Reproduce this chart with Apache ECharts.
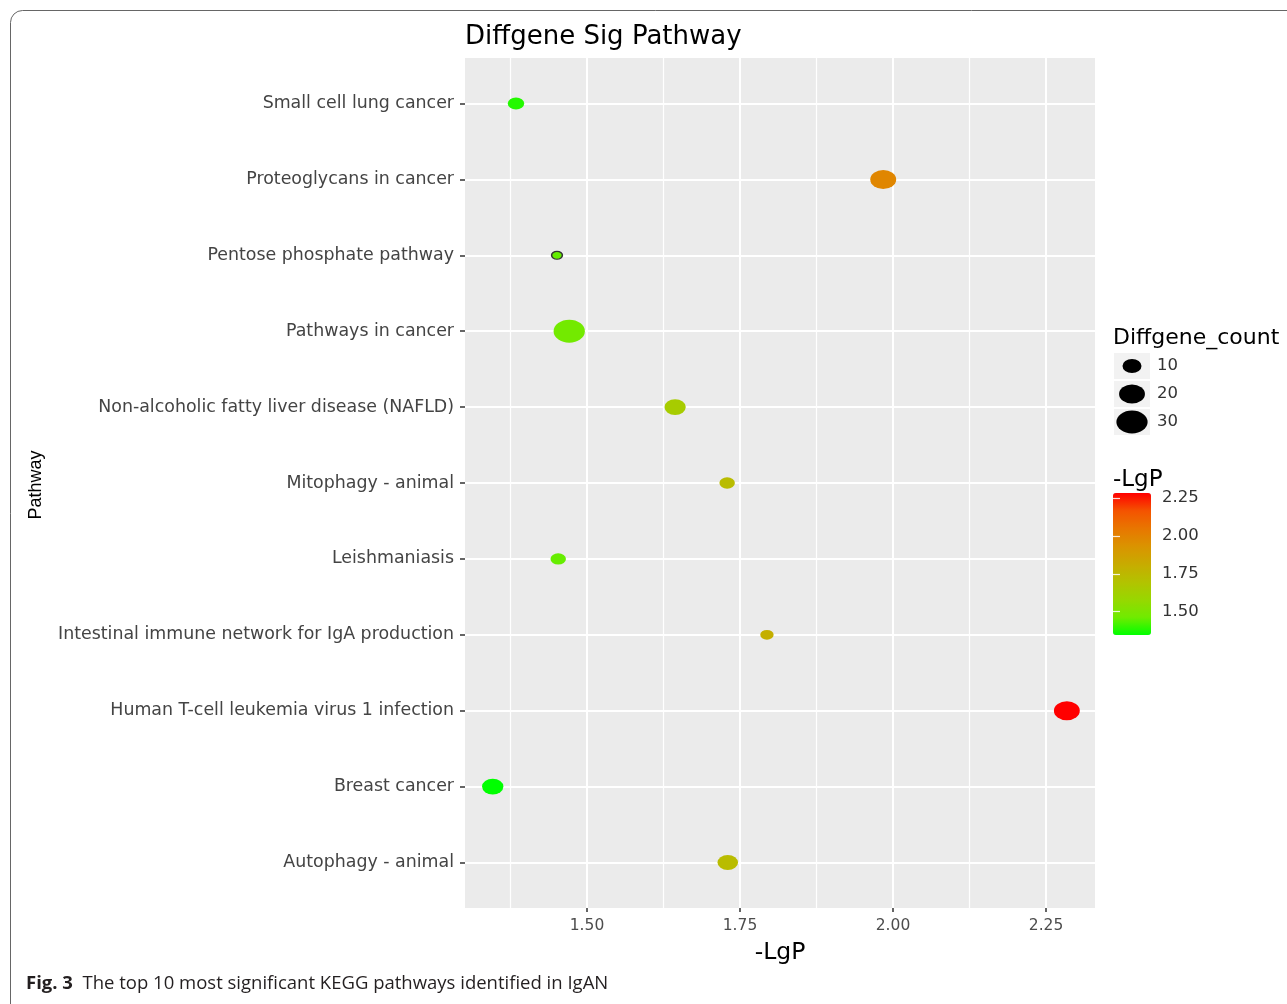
<!DOCTYPE html>
<html><head><meta charset="utf-8">
<script src="https://cdn.jsdelivr.net/npm/echarts@6/dist/echarts.min.js"></script>
<style>html,body{margin:0;padding:0;background:#fff}#c{width:1287px;height:1004px}</style>
</head><body><div id="c"></div>
<script>
const pathways = ['Autophagy - animal','Breast cancer','Human T-cell leukemia virus 1 infection','Intestinal immune network for IgA production','Leishmaniasis','Mitophagy - animal','Non-alcoholic fatty liver disease (NAFLD)','Pathways in cancer','Pentose phosphate pathway','Proteoglycans in cancer','Small cell lung cancer'];
const negLgP = [1.730,1.346,2.284,1.794,1.453,1.729,1.644,1.471,1.451,1.984,1.384];
const diffgeneCount = [12,13,20,4,6,6,13,30,2,20,7];
const xTicks = [1.50,1.75,2.00,2.25];
const xMinorTicks = [1.375,1.625,1.875,2.125];
const sizeLegend = [10,20,30];
const colorTicks = [1.50,1.75,2.00,2.25];
const xRange = [1.3007, 2.330];
const colorRange = [1.346, 2.284];
const gradientColors = ['#00FF00','#70EB00','#98D700','#B3C200','#C8AB00','#DA9300','#E87600','#F45300','#FF0000'];

const ELLIPSE = 'path://M0,50A50,50 0 1,1 100,50A50,50 0 1,1 0,50Z';
function sizeOf(c){ const h = Math.sqrt(30 + 16.6*c); return [h*1.36, h]; }
const AX = 'DejaVu Sans';
const fmt2 = v => Number(v).toFixed(2);

const chart = echarts.init(document.getElementById('c'), null, {renderer:'canvas'});
chart.setOption({
  animation:false,
  backgroundColor:'#fff',
  title:[
    {text:'Diffgene Sig Pathway', left:465, top:24, padding:0, textStyle:{fontFamily:AX, fontSize:26, fontWeight:'normal', color:'#000'}},
    {text:'Diffgene_count', left:1113, top:327, padding:0, textStyle:{fontFamily:AX, fontSize:22, fontWeight:'normal', color:'#000'}},
    {text:'-LgP', left:1113, top:469, padding:0, textStyle:{fontFamily:AX, fontSize:23, fontWeight:'normal', color:'#000'}}
  ],
  grid:[
    {left:465, top:58, width:630, height:850, show:true, backgroundColor:'#EBEBEB', borderWidth:0},
    {left:465, top:103.5, width:630, height:759},
    {left:1113, top:493, width:38, height:142},
    {left:1114, top:352, width:36, height:84, show:true, backgroundColor:'#F2F2F2', borderWidth:0}
  ],
  xAxis:[
    {gridIndex:0, type:'value', min:xRange[0], max:xRange[1], position:'bottom',
      axisLine:{show:false},
      axisTick:{show:true, customValues:xTicks, length:4, lineStyle:{color:'#333', width:1.5}},
      axisLabel:{customValues:xTicks, formatter:fmt2, margin:10, color:'#4D4D4D', fontSize:15.5, fontFamily:AX},
      splitLine:{show:true, lineStyle:{color:'#fff', width:2}},
      name:'-LgP', nameLocation:'middle', nameGap:33, nameTextStyle:{fontFamily:AX, fontSize:23.5, color:'#000'}},
    {gridIndex:0, type:'value', min:xRange[0], max:xRange[1], position:'top',
      axisLine:{show:false}, axisTick:{show:false, customValues:xMinorTicks}, axisLabel:{show:false, customValues:xMinorTicks},
      splitLine:{show:true, lineStyle:{color:'#fff', width:1.2}}},
    {gridIndex:1, type:'value', min:xRange[0], max:xRange[1], show:false},
    {gridIndex:2, type:'value', min:0, max:1, show:false},
    {gridIndex:3, type:'value', min:-1, max:1, show:false}
  ],
  yAxis:[
    {gridIndex:0, type:'value', min:0, max:1, show:false},
    {gridIndex:1, type:'category', data:pathways, boundaryGap:false,
      axisLine:{show:false},
      axisTick:{show:true, length:5, lineStyle:{color:'#333', width:1.5}},
      axisLabel:{interval:0, margin:11, color:'#444', fontSize:17.4, fontFamily:AX, padding:[3,0,0,0]},
      splitLine:{show:true, interval:0, lineStyle:{color:'#fff', width:2}}},
    {gridIndex:2, type:'value', min:colorRange[0], max:colorRange[1], position:'right', z:10,
      axisLine:{show:false},
      axisTick:{show:true, customValues:colorTicks, inside:true, length:7, lineStyle:{color:'rgba(255,255,255,0.85)', width:1.2}},
      axisLabel:{customValues:colorTicks, formatter:fmt2, margin:11, color:'#333', fontSize:16.5, fontFamily:AX},
      splitLine:{show:false}},
    {gridIndex:2, type:'value', min:colorRange[0], max:colorRange[1], position:'left', z:10,
      axisLine:{show:false},
      axisTick:{show:true, customValues:colorTicks, inside:true, length:7, lineStyle:{color:'rgba(255,255,255,0.85)', width:1.2}},
      axisLabel:{show:false}, splitLine:{show:false}},
    {gridIndex:3, type:'category', data:sizeLegend.map(String), inverse:true, position:'right', boundaryGap:true,
      axisLine:{show:false}, axisTick:{show:false},
      axisLabel:{interval:0, margin:7, color:'#333', fontSize:16.5, fontFamily:AX},
      splitLine:{show:true, interval:0, lineStyle:{color:'#fff', width:2}}}
  ],
  visualMap:{
    type:'continuous', min:colorRange[0], max:colorRange[1], dimension:0, seriesIndex:0,
    left:1113, top:493, itemWidth:38, itemHeight:142, padding:0, calculable:false, hoverLink:false,
    inRange:{color:gradientColors}
  },
  series:[
    {type:'scatter', xAxisIndex:2, yAxisIndex:1, symbol:ELLIPSE, z:5,
      itemStyle:{opacity:1},
      symbolSize:(v)=>sizeOf(v[2]),
      data:pathways.map((p,i)=>{
        const d = {value:[negLgP[i], p, diffgeneCount[i]]};
        if (p === 'Pentose phosphate pathway') d.itemStyle = {opacity:1, borderColor:'#333', borderWidth:1.3};
        return d;
      })},
    {type:'scatter', xAxisIndex:4, yAxisIndex:4, symbol:ELLIPSE, silent:true,
      symbolSize:(v)=>sizeOf(v[2]), itemStyle:{color:'#000', opacity:1},
      data:sizeLegend.map(v=>[0, String(v), v])}
  ],
  graphic:[
    {type:'rect', shape:{x:10.5, y:10.5, width:1320, height:1040, r:12}, style:{fill:null, stroke:'#666', lineWidth:1}, silent:true},
    {type:'text', x:36, y:485, rotation:Math.PI/2, style:{text:'Pathway', fontFamily:'Liberation Sans', fontSize:18, align:'center', verticalAlign:'middle', fill:'#000'}},
    {type:'text', x:26, y:984, style:{text:'{b|Fig. 3}  The top 10 most significant KEGG pathways identified in IgAN', fontFamily:'Open Sans', fontSize:18.5, verticalAlign:'middle', fill:'#231f20',
      rich:{b:{fontFamily:'Open Sans', fontSize:18.5, fontWeight:'bold', fill:'#231f20'}}}}
  ]
});
</script></body></html>
